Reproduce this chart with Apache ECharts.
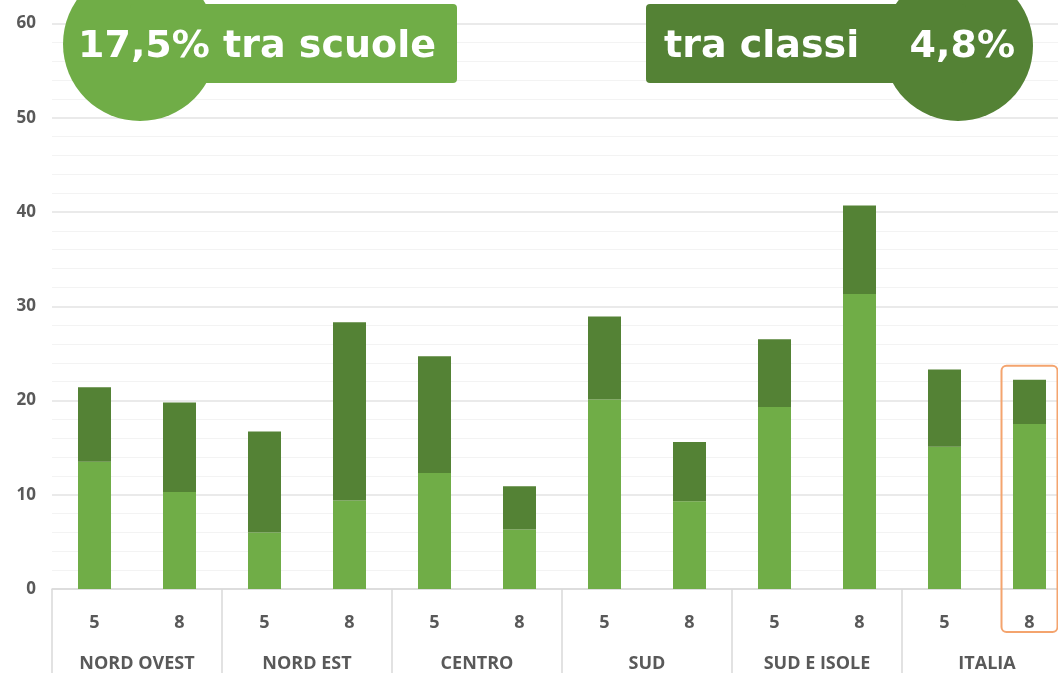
<!DOCTYPE html>
<html>
<head>
<meta charset="utf-8">
<script src="https://cdn.jsdelivr.net/npm/echarts@6/dist/echarts.min.js"></script>
<style>
  html, body { margin: 0; padding: 0; background: #fff; overflow: hidden; }
  #main { width: 1072px; height: 673px; }
</style>
</head>
<body>
<div id="main"></div>
<script>
// classi e aree geografiche
var grades = ['5', '8', '5', '8', '5', '8', '5', '8', '5', '8', '5', '8'];
var regions = ['NORD OVEST', 'NORD EST', 'CENTRO', 'SUD', 'SUD E ISOLE', 'ITALIA'];
// varianza tra scuole (parte chiara) e tra classi (parte scura)
var traScuole = [13.5, 10.3, 6.0, 9.4, 12.3, 6.3, 20.1, 9.3, 19.3, 31.3, 15.1, 17.5];
var traClassi = [7.9, 9.5, 10.7, 18.9, 12.4, 4.6, 8.8, 6.3, 7.2, 9.4, 8.2, 4.7];
var yTicks = [0, 10, 20, 30, 40, 50, 60];

var chart = echarts.init(document.getElementById('main'));

var labelFont = "'Open Sans', 'Liberation Sans', sans-serif";
var badgeFont = "bold 38px 'DejaVu Sans'";

var option = {
    animation: false,
    grid: { left: 52, right: 0, top: 23.5, bottom: 84 },
    xAxis: [
        {
            type: 'category',
            data: grades,
            position: 'bottom',
            axisLine: { lineStyle: { color: '#d9d9d9', width: 1.5 } },
            axisTick: { show: false },
            axisLabel: { color: '#595959', fontSize: 18, fontWeight: 'bold', fontFamily: labelFont, margin: 25 }
        },
        {
            type: 'category',
            data: regions,
            position: 'bottom',
            axisLine: { show: false },
            axisTick: { show: true, length: 90, lineStyle: { color: '#d9d9d9', width: 1.5 } },
            axisLabel: { color: '#595959', fontSize: 18, fontWeight: 'bold', fontFamily: labelFont, margin: 66 }
        }
    ],
    yAxis: {
        type: 'value',
        min: yTicks[0],
        max: yTicks[yTicks.length - 1],
        interval: 10,
        axisLine: { show: false },
        axisTick: { show: false },
        axisLabel: { color: '#595959', fontSize: 17, fontWeight: 'bold', fontFamily: labelFont, margin: 16 },
        splitLine: { lineStyle: { color: '#e3e3e3', width: 1.5 } },
        minorTick: { show: false, splitNumber: 5 },
        minorSplitLine: { show: true, lineStyle: { color: '#f3f3f3', width: 1 } }
    },
    series: [
        {
            name: 'tra scuole',
            type: 'bar',
            stack: 'var',
            data: traScuole,
            barWidth: 33,
            itemStyle: { color: '#70ad47' }
        },
        {
            name: 'tra classi',
            type: 'bar',
            stack: 'var',
            data: traClassi,
            barWidth: 33,
            itemStyle: { color: '#548235' }
        }
    ],
    graphic: [
        { id: 'c1', type: 'circle', shape: { cx: 140, cy: 44, r: 77 }, style: { fill: '#70ad47' }, z: 100 },
        { id: 'r1', type: 'rect', shape: { x: 130, y: 4, width: 327, height: 79, r: 4 }, style: { fill: '#70ad47' }, z: 100 },
        { id: 't1', type: 'text', x: 78, y: 47, style: { text: '17,5% tra scuole', fill: '#fff', font: badgeFont, verticalAlign: 'middle' }, z: 101 },
        { id: 'c2', type: 'circle', shape: { cx: 958, cy: 46, r: 75 }, style: { fill: '#548235' }, z: 100 },
        { id: 'r2', type: 'rect', shape: { x: 646, y: 4, width: 320, height: 79, r: 4 }, style: { fill: '#548235' }, z: 100 },
        { id: 't2', type: 'text', x: 664, y: 47, style: { text: 'tra classi', fill: '#fff', font: badgeFont, verticalAlign: 'middle' }, z: 101 },
        { id: 't3', type: 'text', x: 1015, y: 47, style: { text: '4,8%', fill: '#fff', font: badgeFont, verticalAlign: 'middle', align: 'right' }, z: 101 }
    ]
};

if (option && typeof option === 'object') {
    chart.setOption(option, true);
}

// riquadro evidenziato attorno all'ultima barra (ITALIA, classe 8)
var last = grades.length - 1;
var topPt = chart.convertToPixel({ seriesIndex: 1 }, [last, traScuole[last] + traClassi[last]]);
chart.setOption({
    graphic: [{
        id: 'box',
        type: 'rect',
        shape: { x: topPt[0] - 28, y: topPt[1] - 14, width: 56, height: 632 - (topPt[1] - 14), r: 5 },
        style: { fill: 'none', stroke: '#f4a46e', lineWidth: 2 },
        z: 99
    }]
});
</script>
</body>
</html>
